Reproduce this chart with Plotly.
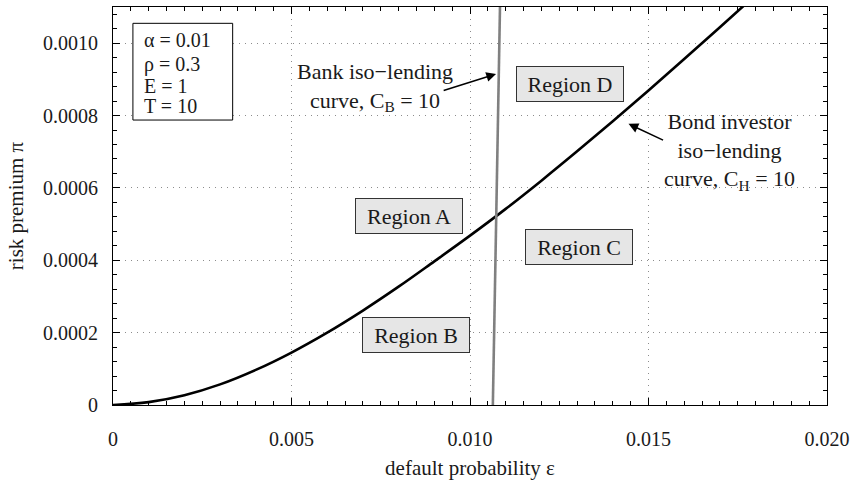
import plotly.graph_objects as go

# Bond investor iso-lending curve (C_H = 10)
bond_eps = [0, 0.001, 0.002, 0.003, 0.004, 0.005, 0.006, 0.007, 0.008, 0.009,
            0.010, 0.011, 0.012, 0.013, 0.014, 0.015, 0.016, 0.017, 0.018]
bond_pi = [0, 0.000008, 0.000027, 0.000057, 0.000097, 0.000145, 0.000200, 0.000261, 0.000327,
           0.000397, 0.000468, 0.000542, 0.000620, 0.000701, 0.000784, 0.000869, 0.000956,
           0.001044, 0.001133]

# Bank iso-lending curve (C_B = 10)
bank_eps = [0.01064, 0.01084]
bank_pi = [0, 0.0011]

x_ticks = [0, 0.005, 0.010, 0.015, 0.020]
x_tick_labels = ["0", "0.005", "0.010", "0.015", "0.020"]
y_ticks = [0, 0.0002, 0.0004, 0.0006, 0.0008, 0.0010]
y_tick_labels = ["0", "0.0002", "0.0004", "0.0006", "0.0008", "0.0010"]

params = ["α = 0.01", "ρ = 0.3", "E = 1", "T = 10"]
regions = ["Region A", "Region B", "Region C", "Region D"]
region_eps = [0.00830, 0.00848, 0.01304, 0.01281]
region_pi = [0.000522, 0.000194, 0.000438, 0.000887]

FONT = "Liberation Serif, Times New Roman, serif"
FS = 20      # tick labels
FA = 22      # annotations
FP = 20      # parameter box
FT = 21      # axis titles
TXT = "#1a1a1a"

fig = go.Figure()
fig.add_trace(go.Scatter(x=bond_eps, y=bond_pi, mode="lines",
                         line=dict(color="black", width=2.6, shape="spline", smoothing=1.0),
                         showlegend=False, hoverinfo="skip"))
fig.add_trace(go.Scatter(x=bank_eps, y=bank_pi, mode="lines",
                         line=dict(color="#808080", width=2.6),
                         showlegend=False, hoverinfo="skip"))

annotations = []
# parameter box text
param_y = [0.9166, 0.8565, 0.8014, 0.7513]
for t, py in zip(params, param_y):
    annotations.append(dict(xref="paper", yref="paper", x=0.0405, y=py, text=t,
                            showarrow=False, xanchor="left", yanchor="middle",
                            font=dict(family=FONT, size=FP, color=TXT)))
# region labels
for t, ex, py in zip(regions, region_eps, region_pi):
    annotations.append(dict(x=ex, y=py, text=t, showarrow=False,
                            font=dict(family=FONT, size=FA, color=TXT),
                            bgcolor="#e6e6e6", bordercolor="#333333", borderwidth=1,
                            borderpad=3, width=100, height=28))
# bank label
annotations.append(dict(x=0.00735, y=0.000878, text="Bank iso−lending<br>curve, C<sub>B</sub> = 10",
                        showarrow=False, font=dict(family=FONT, size=FA, color=TXT),
                        align="center"))
annotations.append(dict(x=0.01073, y=0.000915, ax=0.00922, ay=0.000868, axref="x", ayref="y",
                        text="", showarrow=True, arrowhead=2, arrowsize=1.3, arrowwidth=1.5,
                        arrowcolor="black", standoff=0, startstandoff=0))
# bond label
annotations.append(dict(x=0.01727, y=0.000700,
                        text="Bond investor<br>iso−lending<br>curve, C<sub>H</sub> = 10",
                        showarrow=False, font=dict(family=FONT, size=FA, color=TXT),
                        align="center"))
annotations.append(dict(x=0.01444, y=0.000777, ax=0.01545, ay=0.00073, axref="x", ayref="y",
                        text="", showarrow=True, arrowhead=2, arrowsize=1.3, arrowwidth=1.5,
                        arrowcolor="black", standoff=0, startstandoff=0))

shapes = [dict(type="rect", xref="paper", yref="paper", x0=0.0279, x1=0.1676, y0=0.716, y1=0.959,
               line=dict(color="black", width=1), fillcolor="white", layer="above")]

axis_common = dict(showline=True, linecolor="black", linewidth=1, mirror="allticks",
                   ticks="inside", ticklen=7, tickcolor="black", tickwidth=1,
                   showgrid=True, gridcolor="#8c8c8c", gridwidth=1, griddash="1px,5px",
                   zeroline=False,
                   tickfont=dict(family=FONT, size=FS, color=TXT))

fig.update_layout(
    width=856, height=483,
    margin=dict(l=113, r=27, t=6, b=78),
    paper_bgcolor="white", plot_bgcolor="white",
    font=dict(family=FONT, size=FS, color=TXT),
    xaxis=dict(range=[0, 0.020], tickvals=x_ticks, ticktext=x_tick_labels,
               minor=dict(dtick=0.0005, ticks="inside", ticklen=4, tickcolor="black", showgrid=False),
               ticklabelstandoff=16,
               title=dict(text="default probability ε", standoff=11,
                          font=dict(family=FONT, size=FT, color=TXT)),
               **axis_common),
    yaxis=dict(range=[0, 0.0011], tickvals=y_ticks, ticktext=y_tick_labels,
               minor=dict(dtick=0.00004, tick0=0, ticks="inside", ticklen=4, tickcolor="black", showgrid=False),
               ticklabelstandoff=10,
               title=dict(text="risk premium π", standoff=13,
                          font=dict(family=FONT, size=FT, color=TXT)),
               **axis_common),
    annotations=annotations,
    shapes=shapes,
)

fig.write_html("out.html")
